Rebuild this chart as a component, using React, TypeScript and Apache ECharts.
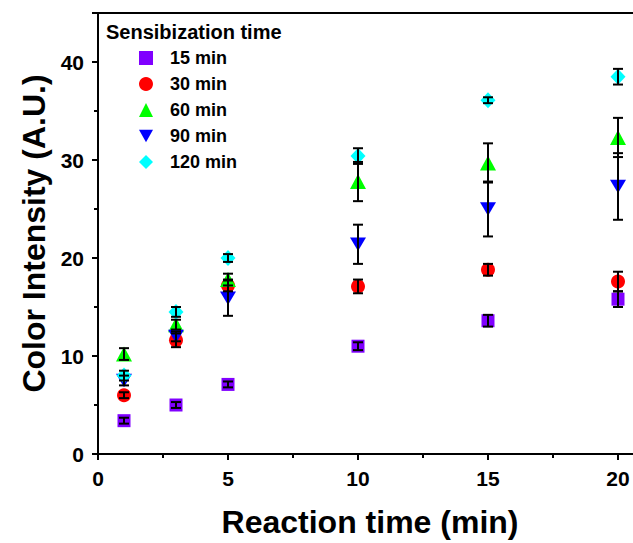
import React, { useEffect, useRef } from "react";
import * as echarts from "echarts";

const reactionTimes = [1, 3, 5, 10, 15, 20];
const seriesNames = ["15 min", "30 min", "60 min", "90 min", "120 min"];
const s15 = [3.4, 5.0, 7.1, 11.0, 13.6, 15.8];
const e15 = [0.3, 0.3, 0.3, 0.4, 0.6, 0.8];
const s30 = [6.0, 11.6, 17.2, 17.1, 18.8, 17.6];
const e30 = [0.3, 0.7, 0.6, 0.7, 0.6, 1.0];
const s60 = [10.2, 13.2, 17.8, 27.8, 29.7, 32.3];
const e60 = [0.6, 0.5, 0.6, 2.0, 2.0, 2.0];
const s90 = [7.5, 12.0, 15.9, 21.4, 25.0, 27.3];
const e90 = [0.5, 0.5, 1.8, 2.0, 2.8, 3.4];
const s120 = [8.0, 14.5, 20.0, 30.4, 36.1, 38.5];
const e120 = [0.5, 0.5, 0.4, 0.8, 0.3, 0.8];

const allValues = [s15, s30, s60, s90, s120];
const allErrors = [e15, e30, e60, e90, e120];
const colors = ["#8000FF", "#FF0000", "#00FF00", "#0000FF", "#00FFFF"];
const symbols = ["rect", "circle", "triangle", "path://M0,0 L10,0 L5,9 Z", "diamond"];
const symbolSizes: any[] = [13, 14, [16, 15], [16, 15], [15, 16]];

const FONT = "'Liberation Sans', Arial, sans-serif";

export default function App() {
  const ref = useRef<HTMLDivElement>(null);
  useEffect(() => {
    if (!ref.current) return;
    const chart = echarts.init(ref.current, undefined, { renderer: "svg" });
    const scatterSeries = seriesNames.map((name, i) => ({
      type: "scatter",
      name,
      data: reactionTimes.map((x, j) => [x, allValues[i][j]]),
      symbol: symbols[i],
      symbolSize: symbolSizes[i],
      symbolKeepAspect: true,
      itemStyle: { color: colors[i], opacity: 1 },
      z: 2,
    }));
    const errorSeries = seriesNames.map((name, i) => ({
      type: "custom",
      name: name + " err",
      data: reactionTimes.map((x, j) => [x, allValues[i][j] - allErrors[i][j], allValues[i][j] + allErrors[i][j]]),
      z: 3,
      renderItem: (params: any, api: any) => {
        const x = api.value(0);
        const lo = api.coord([x, api.value(1)]);
        const hi = api.coord([x, api.value(2)]);
        const w = 5;
        const style = { stroke: "#000", lineWidth: 2 };
        return {
          type: "group",
          children: [
            { type: "line", shape: { x1: hi[0], y1: hi[1], x2: lo[0], y2: lo[1] }, style },
            { type: "line", shape: { x1: hi[0] - w, y1: hi[1], x2: hi[0] + w, y2: hi[1] }, style },
            { type: "line", shape: { x1: lo[0] - w, y1: lo[1], x2: lo[0] + w, y2: lo[1] }, style },
          ],
        };
      },
    }));
    chart.setOption({
      animation: false,
      backgroundColor: "#fff",
      grid: {
        left: 98,
        top: 13,
        bottom: 89,
        right: 10,
        show: true,
        borderColor: "#000",
        borderWidth: 2,
      },
      legend: {
        data: seriesNames,
        orient: "vertical",
        left: 134,
        top: 44,
        itemWidth: 14,
        itemHeight: 14,
        itemGap: 8,
        symbolKeepAspect: true,
        textStyle: {
          fontFamily: FONT,
          fontWeight: "bold",
          fontSize: 18,
          lineHeight: 18,
          color: "#000",
          padding: [0, 0, 0, 12],
        },
      },
      graphic: [
        {
          type: "text",
          left: 106,
          top: 22,
          style: {
            text: "Sensibization time",
            fontFamily: FONT,
            fontWeight: "bold",
            fontSize: 20,
            fill: "#000",
          },
        },
      ],
      xAxis: {
        type: "value",
        min: 0,
        max: 22,
        interval: 5,
        name: "Reaction time (min)",
        nameLocation: "middle",
        nameGap: 52,
        nameTextStyle: { fontFamily: FONT, fontWeight: "bold", fontSize: 32, color: "#000", padding: [0, 28, 0, 0] },
        splitLine: { show: false },
        axisLine: { show: true, onZero: false, lineStyle: { color: "#000", width: 2 } },
        axisTick: { show: true, inside: false, length: 6, lineStyle: { color: "#000", width: 2 } },
        minorTick: { show: true, splitNumber: 2, length: 4, lineStyle: { color: "#000", width: 2 } },
        axisLabel: {
          margin: 14,
          fontFamily: FONT,
          fontWeight: "bold",
          fontSize: 21,
          color: "#000",
          formatter: (v: number) => (v % 5 === 0 ? String(v) : ""),
        },
      },
      yAxis: {
        type: "value",
        min: 0,
        max: 45,
        interval: 10,
        name: "Color Intensity (A.U.)",
        nameLocation: "middle",
        nameGap: 46,
        nameTextStyle: { fontFamily: FONT, fontWeight: "bold", fontSize: 32, color: "#000" },
        splitLine: { show: false },
        axisLine: { show: true, onZero: false, lineStyle: { color: "#000", width: 2 } },
        axisTick: { show: true, inside: false, length: 6, lineStyle: { color: "#000", width: 2 } },
        minorTick: { show: true, splitNumber: 2, length: 4, lineStyle: { color: "#000", width: 2 } },
        axisLabel: {
          margin: 14,
          fontFamily: FONT,
          fontWeight: "bold",
          fontSize: 21,
          color: "#000",
          formatter: (v: number) => (v % 10 === 0 ? String(v) : ""),
        },
      },
      series: [...scatterSeries, ...errorSeries],
    });
    return () => chart.dispose();
  }, []);
  return (
    <div style={{ position: "absolute", left: 0, top: 0, width: 633, height: 543, overflow: "hidden", background: "#fff" }}>
      <div ref={ref} style={{ width: 680, height: 543 }} />
    </div>
  );
}
